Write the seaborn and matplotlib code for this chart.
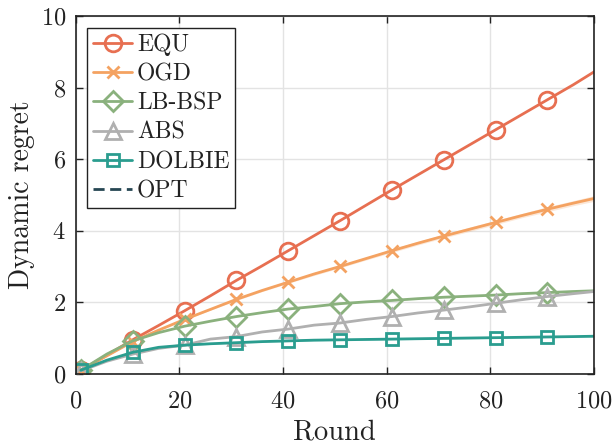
import matplotlib
matplotlib.use("Agg")
import matplotlib.pyplot as plt
import seaborn as sns
import numpy as np

# Rounds at which the cumulative regret was recorded
rounds = [1, 6, 11, 16, 21, 26, 31, 36, 41, 46, 51, 56, 61, 66, 71, 76, 81, 86, 91, 96, 100]

equ = [0.10, 0.52, 0.95, 1.35, 1.76, 2.18, 2.61, 3.02, 3.44, 3.86, 4.28, 4.71,
       5.14, 5.56, 5.98, 6.40, 6.82, 7.24, 7.66, 8.08, 8.44]
ogd = [0.10, 0.50, 0.90, 1.22, 1.52, 1.80, 2.08, 2.33, 2.56, 2.79, 3.00, 3.22,
       3.44, 3.65, 3.85, 4.04, 4.23, 4.42, 4.60, 4.77, 4.90]
lb_bsp = [0.10, 0.55, 0.92, 1.15, 1.33, 1.47, 1.60, 1.71, 1.81, 1.88, 1.96, 2.01,
          2.05, 2.10, 2.14, 2.17, 2.20, 2.24, 2.27, 2.30, 2.32]
abs_ = [0.08, 0.35, 0.55, 0.71, 0.80, 0.97, 1.04, 1.17, 1.25, 1.36, 1.42, 1.52,
        1.60, 1.70, 1.78, 1.87, 1.97, 2.07, 2.16, 2.24, 2.30]
dolbie = [0.10, 0.38, 0.60, 0.74, 0.80, 0.84, 0.87, 0.90, 0.92, 0.94, 0.95, 0.96,
          0.97, 0.98, 0.99, 1.00, 1.01, 1.02, 1.03, 1.04, 1.05]
opt = [0.0] * len(rounds)

# Spread across runs (shaded band)
ogd_spread = [0.00, 0.01, 0.01, 0.02, 0.02, 0.02, 0.03, 0.03, 0.03, 0.04, 0.04, 0.04,
              0.05, 0.05, 0.05, 0.06, 0.06, 0.06, 0.07, 0.07, 0.08]
dolbie_spread = [0.00, 0.01, 0.01, 0.02, 0.02, 0.02, 0.02, 0.02, 0.02, 0.02, 0.02, 0.02,
                 0.02, 0.02, 0.02, 0.02, 0.02, 0.02, 0.02, 0.02, 0.02]

labels = ["EQU", "OGD", "LB-BSP", "ABS", "DOLBIE", "OPT"]
colors = ["#e76f51", "#f4a261", "#8ab17d", "#b0b0b0", "#2a9d8f", "#264653"]
markers = ["o", "x", "D", "^", "s", None]
msizes = [12, 8, 10, 11, 8, 0]

sns.set_theme(style="ticks")
plt.rcParams["font.family"] = ["cmr10", "DejaVu Serif"]
plt.rcParams["mathtext.fontset"] = "cm"
plt.rcParams["axes.formatter.use_mathtext"] = True
plt.rcParams["axes.unicode_minus"] = False

fig = plt.figure(figsize=(6.15, 4.45), dpi=100)
ax = fig.add_axes([0.123, 0.160, 0.843, 0.804])

x = np.array(rounds)
mark_idx = list(range(0, 19, 2))

for series, spread, c in [(ogd, ogd_spread, colors[1]), (dolbie, dolbie_spread, colors[4])]:
    s = np.array(series)
    d = np.array(spread)
    ax.fill_between(x, s - d, s + d, color=c, alpha=0.25, linewidth=0, zorder=2)

data = [equ, ogd, lb_bsp, abs_, dolbie]
for vals, lab, c, m, ms in zip(data, labels, colors, markers, msizes):
    kw = dict(marker=m, markersize=ms, markevery=mark_idx,
              markeredgewidth=2.0, markeredgecolor=c)
    if m != "x":
        kw["markerfacecolor"] = "none"
    sns.lineplot(x=x, y=vals, ax=ax, color=c, linewidth=2.0, label=lab,
                 zorder=3, **kw)

# OPT has zero regret: it lies on the bottom spine
sns.lineplot(x=x, y=opt, ax=ax, color=colors[5], linewidth=0.8,
             linestyle=(0, (4, 2)), label="OPT", zorder=1.5)

ax.set_xlim(0, 100)
ax.set_ylim(0, 10)
ax.set_xticks([0, 20, 40, 60, 80, 100])
ax.set_yticks([0, 2, 4, 6, 8, 10])
ax.grid(True, color="#e3e3e3", linewidth=1.0)
ax.set_axisbelow(True)
ax.tick_params(direction="in", length=5, width=1, top=True, right=True,
               labelsize=17.5, colors="#222222")
ax.tick_params(axis="x", pad=12)
ax.tick_params(axis="y", pad=7)
for sp in ax.spines.values():
    sp.set_color("#222222")
    sp.set_linewidth(1.2)
    sp.set_zorder(4)

ax.set_xlabel("Round", fontsize=20.5, labelpad=5, color="#222222")
ax.set_ylabel("Dynamic regret", fontsize=20, labelpad=4, color="#222222")

leg = ax.legend(loc="upper left", fontsize=17, frameon=True, fancybox=False,
                edgecolor="#222222", framealpha=1.0, handlelength=1.65,
                handletextpad=0.2, labelspacing=0.3, borderpad=0.25,
                borderaxespad=0.5, numpoints=1)
leg.get_frame().set_linewidth(1.0)
leg.legend_handles[-1].set_linewidth(2.0)
for t in leg.get_texts():
    t.set_color("#222222")

fig.savefig("out.png", dpi=100)
